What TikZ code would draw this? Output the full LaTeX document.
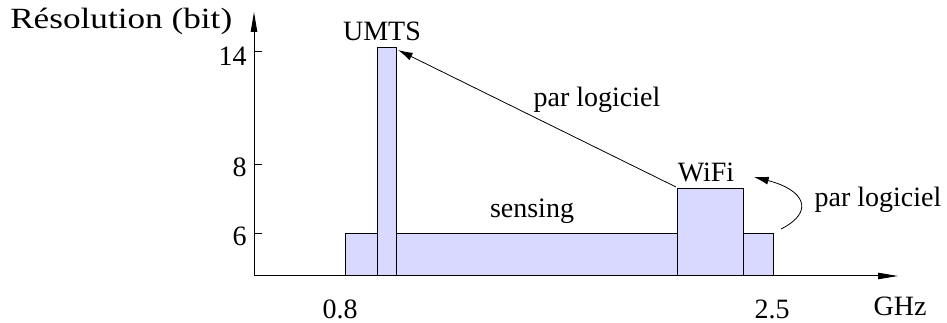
\documentclass[tikz,border=0pt]{standalone}
\usepackage{fontspec}
\setmainfont{Liberation Serif}
\newfontfamily\resfont[FakeStretch=1.2]{Liberation Serif}
\usetikzlibrary{arrows.meta}
\definecolor{barfill}{HTML}{D9D9FF}
\tikzset{
  bar/.style={draw=black, fill=barfill, line width=0.75pt},
  axis/.style={line width=0.75pt, -{Triangle[length=15pt,width=4.8pt]}},
  lbl/.style={font=\fontsize{21}{24}\selectfont, inner sep=0pt},
  conn/.style={line width=0.6pt, -{Latex[length=11pt,width=6pt]}}
}
\begin{document}
\begin{tikzpicture}[x=0.75pt,y=-0.75pt]
\useasboundingbox (0,0) rectangle (947,323);
% bars
\draw[bar] (345,234) rectangle (773,276);
\draw[bar] (377,48) rectangle (396,276);
\draw[bar] (677,189) rectangle (743,276);
\coordinate (umtsTR) at (398,50);
\coordinate (wifiTL) at (676,187);
\coordinate (sensR) at (781,229);
\coordinate (wifiR) at (754,177);
% axes
\coordinate (O) at (254,276);
\coordinate (ytip) at (254,12);
\coordinate (xtip) at (898,276);
\draw[axis] (O) -- (ytip);
\draw[axis] (O) -- (xtip);
% ticks
\draw[line width=0.75pt] (254,52) -- (262,52);
\draw[line width=0.75pt] (254,165) -- (262,165);
\draw[line width=0.75pt] (254,234) -- (262,234);
\node[lbl, anchor=east] (t14) at (247,56) {14};
\node[lbl, anchor=east] (t8) at (247,167) {8};
\node[lbl, anchor=east] (t6) at (247,236) {6};
\node[lbl, font=\resfont\fontsize{22}{26}\selectfont, anchor=west] (ylab) at (10,21) {Résolution (bit)};
\node[lbl] (x08) at (340,309) {0.8};
\node[lbl] (x25) at (772,309) {2.5};
\node[lbl] (ghz) at (900,306) {GHz};
% labels
\node[lbl] (umts) at (382,31) {UMTS};
\node[lbl] (wifi) at (706,172) {WiFi};
\node[lbl] (sensing) at (532,211) {sensing};
\node[lbl] (pl1) at (597,100) {par logiciel};
\node[lbl] (pl2) at (878,200) {par logiciel};
% connectors
\draw[conn] (wifiTL) -- (umtsTR);
\draw[conn] (sensR) .. controls (815,212) and (805,190) .. (wifiR);
\end{tikzpicture}
\end{document}
